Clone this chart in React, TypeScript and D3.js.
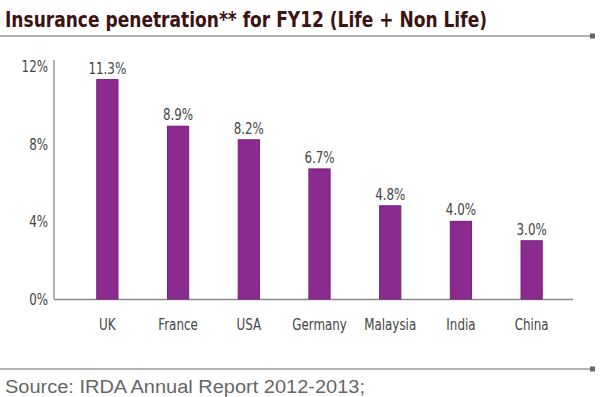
import React, { useEffect, useRef } from 'react';
import * as d3 from 'd3';

const countries = ['UK', 'France', 'USA', 'Germany', 'Malaysia', 'India', 'China'];
const penetration = [11.3, 8.9, 8.2, 6.7, 4.8, 4.0, 3.0];
const yTicks = [0, 4, 8, 12];

const W = 600;
const H = 397;

export default function App() {
  const ref = useRef<SVGSVGElement>(null);

  useEffect(() => {
    const svg = d3.select(ref.current);
    svg.selectAll('*').remove();

    const narrow = "'Liberation Sans Narrow', 'DejaVu Sans Condensed', 'Arial Narrow', sans-serif";
    const squeeze = 0.8;

    const x = d3.scaleBand<string>()
      .domain(countries)
      .range([72, 567])
      .paddingInner(0.7)
      .paddingOuter(0.35);

    const y = d3.scaleLinear()
      .domain([0, 12])
      .range([299, 66]);

    // helper for condensed-looking labels
    const label = (g, px: number, py: number, anchor: string, txt: string) =>
      g.append('text')
        .attr('transform', `translate(${px},${py}) scale(${squeeze},1)`)
        .attr('text-anchor', anchor)
        .attr('font-family', narrow)
        .attr('font-size', 16.5)
        .attr('fill', '#444')
        .text(txt);

    // title
    svg.append('text')
      .attr('x', 5)
      .attr('y', 27)
      .attr('font-family', narrow)
      .attr('font-weight', 'bold')
      .attr('font-size', 22)
      .attr('fill', '#3d1212')
      .attr('textLength', 482)
      .attr('lengthAdjust', 'spacingAndGlyphs')
      .text('Insurance penetration** for FY12 (Life + Non Life)');

    // separator rules with end squares
    [36, 369].forEach(ly => {
      svg.append('line')
        .attr('x1', 0).attr('x2', 592)
        .attr('y1', ly).attr('y2', ly)
        .attr('stroke', '#666').attr('stroke-width', 1.2);
      svg.append('rect')
        .attr('x', 590).attr('y', ly - 2.5)
        .attr('width', 5).attr('height', 5)
        .attr('fill', '#666');
    });

    // axes
    svg.append('line')
      .attr('x1', 54).attr('x2', 54)
      .attr('y1', 60).attr('y2', 299.5)
      .attr('stroke', '#8a8a8a').attr('stroke-width', 1.3);
    svg.append('line')
      .attr('x1', 54).attr('x2', 573)
      .attr('y1', 299.5).attr('y2', 299.5)
      .attr('stroke', '#8a8a8a').attr('stroke-width', 1.3);

    const gy = svg.append('g');
    yTicks.forEach(t => label(gy, 48, y(t) + 6, 'end', `${t}%`));

    // bars
    svg.append('g')
      .selectAll('rect')
      .data(penetration)
      .join('rect')
      .attr('x', (d, i) => x(countries[i])!)
      .attr('y', d => y(d))
      .attr('width', x.bandwidth())
      .attr('height', d => y(0) - y(d))
      .attr('fill', '#8b2b8f')
      .attr('stroke', '#74207a')
      .attr('stroke-width', 1);

    // value labels
    const gv = svg.append('g');
    penetration.forEach((v, i) =>
      label(gv, x(countries[i])! + x.bandwidth() / 2, y(v) - 6, 'middle', `${v.toFixed(1)}%`));

    // category labels
    const gx = svg.append('g');
    countries.forEach(c => label(gx, x(c)! + x.bandwidth() / 2, 330, 'middle', c));

    // source
    svg.append('text')
      .attr('x', 5)
      .attr('y', 393)
      .attr('font-family', "'Liberation Sans', Arial, sans-serif")
      .attr('font-size', 18)
      .attr('fill', '#666')
      .attr('textLength', 360)
      .attr('lengthAdjust', 'spacingAndGlyphs')
      .text('Source: IRDA Annual Report 2012-2013;');
  }, []);

  return (
    <svg
      ref={ref}
      width={W}
      height={H}
      style={{ position: 'absolute', left: 0, top: 0, background: '#fff' }}
    />
  );
}
